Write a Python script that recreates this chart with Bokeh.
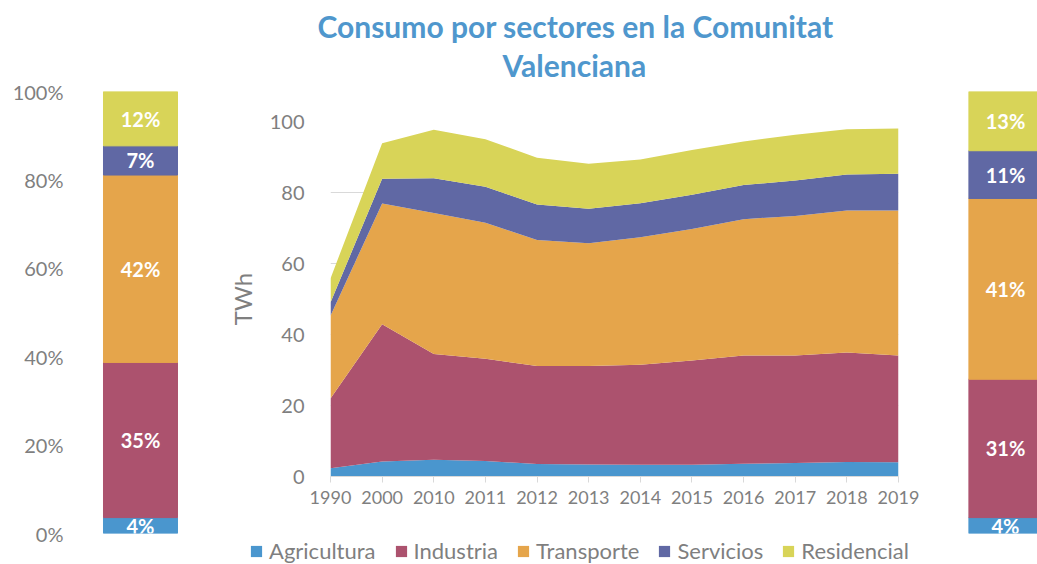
from bokeh.plotting import figure
from bokeh.layouts import row, column, Spacer
from bokeh.models import (Range1d, FixedTicker, Legend, LegendItem, Title,
                          ColumnDataSource)
from bokeh.core.properties import value
from bokeh.core.validation import silence
from bokeh.core.validation.warnings import MISSING_RENDERERS
from bokeh.embed import file_html
from bokeh.resources import INLINE

silence(MISSING_RENDERERS, True)

# ---------------- data ----------------
years = ["1990", "2000", "2010", "2011", "2012", "2013", "2014",
         "2015", "2016", "2017", "2018", "2019"]
sectors = ["Agricultura", "Industria", "Transporte", "Servicios", "Residencial"]
colors = ["#4A96CE", "#AC526E", "#E5A54B", "#6068A4", "#D8D458"]

agricultura = [2.3, 4.2, 4.7, 4.4, 3.5, 3.4, 3.3, 3.3, 3.6, 3.8, 4.1, 4.0]
industria = [19.7, 38.7, 29.8, 28.8, 27.6, 27.7, 28.2, 29.4, 30.5, 30.3, 30.8, 30.1]
transporte = [23.3, 34.0, 39.7, 38.3, 35.5, 34.6, 35.9, 37.0, 38.4, 39.3, 40.0, 40.8]
servicios = [3.7, 7.0, 9.8, 10.1, 10.0, 9.7, 9.6, 9.7, 9.6, 10.0, 10.2, 10.4]
residencial = [6.8, 10.0, 13.7, 13.4, 13.2, 12.7, 12.3, 12.6, 12.3, 12.9, 12.7, 12.7]

share_1990 = [3.6, 35.1, 42.4, 6.6, 12.3]
share_2019 = [3.6, 31.3, 40.9, 10.8, 13.4]

pct_ticks = [0, 20, 40, 60, 80, 100]
twh_ticks = [0, 20, 40, 60, 80, 100]

title_line1 = "Consumo por sectores en la Comunitat"
title_line2 = "Valenciana"
y_title = "TWh"

FONT = "Lato"
GRAY = "#7f7f7f"
TITLE_COLOR = "#4F97CD"
GRID = "#d9d9d9"
H = 564
TITLE_H = 108
LEGEND_H = 44


def share_bar(shares, width, mb_left, mb_right, mb_top, mb_bottom, xr, show_axis):
    p = figure(width=width, height=H, x_range=xr, y_range=Range1d(0, 100),
               output_backend="svg", toolbar_location=None,
               min_border_left=mb_left, min_border_right=mb_right,
               min_border_top=mb_top, min_border_bottom=mb_bottom,
               x_axis_location=None,
               y_axis_location="left" if show_axis else None)
    p.outline_line_color = None
    p.grid.visible = False
    data = {"x": [0]}
    for s, v in zip(sectors, shares):
        data[s] = [v]
    p.vbar_stack(sectors, x="x", width=1, fill_color=colors, line_color=colors,
                 source=ColumnDataSource(data))
    mids, labels, cum = [], [], 0.0
    for v in shares:
        mids.append(cum + v / 2)
        labels.append(f"{round(v)}%")
        cum += v
    p.text(x=[0] * len(mids), y=mids, text=labels, text_align="center",
           text_baseline="middle", text_color="white",
           text_font=value(FONT), text_font_style="bold", text_font_size="20px")
    if show_axis:
        ax = p.yaxis[0]
        ax.ticker = FixedTicker(ticks=pct_ticks)
        ax.major_label_overrides = {t: f"{t}%" for t in pct_ticks}
        ax.axis_line_color = None
        ax.major_tick_line_color = None
        ax.minor_tick_line_color = None
        ax.major_tick_out = 0
        ax.major_tick_in = 0
        ax.major_label_standoff = 7
        ax.major_label_text_font = FONT
        ax.major_label_text_font_size = "20px"
        ax.major_label_text_color = GRAY
    return p


left = share_bar(share_1990, 200, 70, 0, 90, 31, Range1d(-0.946, 0.811), True)
right = share_bar(share_2019, 107, 38, 0, 91, 26, Range1d(-0.5, 0.432), False)

# ---------------- title figure ----------------
tfig = figure(width=730, height=TITLE_H, output_backend="svg", toolbar_location=None,
              min_border_left=130, min_border_right=32, min_border_top=0,
              min_border_bottom=0, x_axis_location=None, y_axis_location=None)
tfig.outline_line_color = None
tfig.grid.visible = False
tfig.add_layout(Title(text=title_line2, align="left", offset=172, text_font=FONT,
                      text_font_size="30px", text_font_style="bold",
                      text_color=TITLE_COLOR, standoff=1), "above")
tfig.add_layout(Title(text=title_line1, align="left", offset=-13, text_font=FONT,
                      text_font_size="30px", text_font_style="bold",
                      text_color=TITLE_COLOR, standoff=1), "above")
tfig.add_layout(Title(text=" ", text_font_size="3px", standoff=0), "above")

# ---------------- area chart ----------------
xs = list(range(len(years)))
src = ColumnDataSource(dict(x=xs, Agricultura=agricultura, Industria=industria,
                            Transporte=transporte, Servicios=servicios,
                            Residencial=residencial))
p = figure(width=730, height=H - TITLE_H - LEGEND_H, x_range=Range1d(0, len(years) - 1),
           y_range=Range1d(0, 100), output_backend="svg", toolbar_location=None,
           min_border_left=130, min_border_right=32, min_border_top=13,
           min_border_bottom=H - TITLE_H - LEGEND_H - 13 - 355)
p.outline_line_color = None
p.varea_stack(sectors, x="x", fill_color=colors, source=src)

xa = p.xaxis[0]
xa.ticker = FixedTicker(ticks=xs)
xa.major_label_overrides = {i: y for i, y in enumerate(years)}
xa.axis_line_color = GRID
xa.major_tick_line_color = GRID
xa.major_tick_out = 6
xa.major_tick_in = 0
xa.minor_tick_line_color = None
xa.major_label_standoff = 8
xa.major_label_text_font = FONT
xa.major_label_text_font_size = "18px"
xa.major_label_text_color = GRAY

ya = p.yaxis[0]
ya.ticker = FixedTicker(ticks=twh_ticks)
ya.axis_line_color = None
ya.major_tick_line_color = None
ya.minor_tick_line_color = None
ya.major_tick_out = 0
ya.major_label_standoff = 26
ya.major_label_text_font = FONT
ya.major_label_text_font_size = "20px"
ya.major_label_text_color = GRAY
ya.axis_label = y_title
ya.axis_label_text_font = FONT
ya.axis_label_text_font_size = "24px"
ya.axis_label_text_font_style = "normal"
ya.axis_label_text_color = GRAY
ya.axis_label_standoff = 10

p.xgrid.grid_line_color = None
p.ygrid.ticker = FixedTicker(ticks=twh_ticks)
p.ygrid.grid_line_color = GRID

# ---------------- legend figure (areas drawn outside its visible range) ----------------
lfig = figure(width=681, height=LEGEND_H, x_range=Range1d(0, 1),
              y_range=Range1d(1000, 1001),
              output_backend="svg", toolbar_location=None,
              min_border_left=0, min_border_right=0, min_border_top=0,
              min_border_bottom=0, x_axis_location=None, y_axis_location=None)
lfig.outline_line_color = None
lfig.grid.visible = False
lrs = lfig.varea_stack(sectors, x="x", fill_color=colors, source=src)
legend = Legend(items=[LegendItem(label=s, renderers=[r]) for s, r in zip(sectors, lrs)],
                orientation="horizontal", location=(0, 0),
                glyph_width=14, glyph_height=14, label_standoff=6, spacing=18,
                padding=0, margin=0, border_line_color=None,
                background_fill_alpha=0, label_text_font=FONT,
                label_text_font_size="22px", label_text_color=GRAY,
                label_text_baseline="middle")
lfig.add_layout(legend)

legend_row = row(Spacer(width=49, height=LEGEND_H), lfig)
layout = row(left, column(tfig, p, legend_row), right)
open("out.html", "w").write(file_html(layout, INLINE))
